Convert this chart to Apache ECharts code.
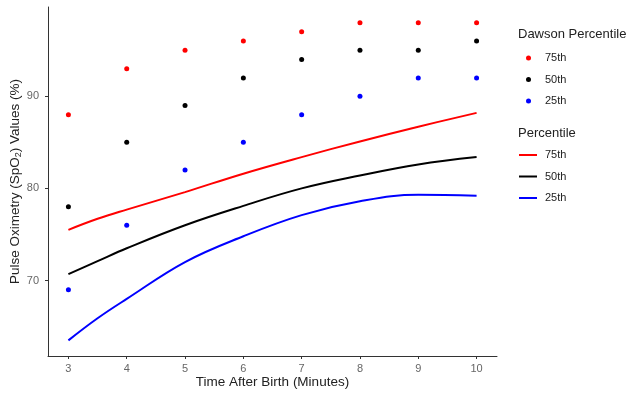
<!DOCTYPE html>
<html>
<head>
<meta charset="utf-8">
<script src="https://cdn.jsdelivr.net/npm/echarts@6.0.0/dist/echarts.min.js"></script>
<style>
  html, body { margin: 0; padding: 0; background: #fff; }
  #main { width: 635px; height: 398px; }
</style>
</head>
<body>
<div id="main"></div>
<script>
// Dawson percentile points (one per minute)
var dawsonMinutes = [3, 4, 5, 6, 7, 8, 9, 10];
var dawson75 = [88, 93, 95, 96, 97, 98, 98, 98];
var dawson50 = [78, 85, 89, 92, 94, 95, 95, 96];
var dawson25 = [69, 76, 82, 85, 88, 90, 92, 92];

// fitted percentile curves
var curveMinutes = [3, 3.5, 4, 5, 6, 7, 8, 9, 10];
var curve75 = [75.5, 76.7, 77.7, 79.6, 81.6, 83.4, 85.1, 86.7, 88.2];
var curve50 = [70.7, 72.1, 73.5, 76.0, 78.1, 80.0, 81.4, 82.6, 83.4];
var curve25 = [63.5, 65.9, 68.0, 72.0, 74.8, 77.1, 78.6, 79.3, 79.2];

var xTicks = [3, 4, 5, 6, 7, 8, 9, 10];
var yTicks = [70, 80, 90];

var labelNames = {d75: '75th', d50: '50th', d25: '25th', p75: '75th', p50: '50th', p25: '25th'};

function pairs(xs, ys) {
    return xs.map(function (x, i) { return [x, ys[i]]; });
}

var chart = echarts.init(document.getElementById('main'));
var font = 'Liberation Sans, Arial, sans-serif';

function dots(name, ys, color) {
    return {
        name: name,
        type: 'scatter',
        symbolSize: 5,
        itemStyle: {color: color, opacity: 1},
        data: pairs(dawsonMinutes, ys)
    };
}

function curve(name, ys, color) {
    return {
        name: name,
        type: 'line',
        smooth: 0.4,
        symbol: 'none',
        lineStyle: {color: color, width: 2},
        itemStyle: {color: color},
        data: pairs(curveMinutes, ys)
    };
}

var option = {
    animation: false,
    textStyle: {fontFamily: font},
    grid: {left: 48, right: 138, top: 7, bottom: 42, outerBoundsMode: 'none'},
    xAxis: {
        type: 'value',
        min: 2.65,
        max: 10.35,
        splitLine: {show: false},
        axisLine: {lineStyle: {color: '#333', width: 1}},
        axisTick: {show: true, length: 3, customValues: xTicks, lineStyle: {color: '#333'}},
        axisLabel: {customValues: xTicks, color: '#666', fontSize: 11, margin: 7},
        name: 'Time After Birth (Minutes)',
        nameLocation: 'middle',
        nameMoveOverlap: false,
        nameGap: 19,
        nameTextStyle: {color: '#222', fontSize: 13.5}
    },
    yAxis: {
        type: 'value',
        min: 61.8,
        max: 99.7,
        splitLine: {show: false},
        axisLine: {show: true, lineStyle: {color: '#333', width: 1}},
        axisTick: {show: true, length: 3, customValues: yTicks, lineStyle: {color: '#333'}},
        axisLabel: {customValues: yTicks, color: '#666', fontSize: 11, margin: 9},
        name: 'Pulse Oximetry (SpO{sub|2}) Values (%)',
        nameLocation: 'middle',
        nameMoveOverlap: false,
        nameGap: 25,
        nameTextStyle: {
            color: '#222',
            fontSize: 13.5,
            rich: {sub: {fontSize: 9, color: '#222', padding: [6, 0, 0, 0]}}
        }
    },
    legend: [
        {
            orient: 'vertical',
            left: 521,
            top: 46,
            itemWidth: 5,
            itemHeight: 5,
            itemGap: 7.5,
            icon: 'circle',
            data: ['d75', 'd50', 'd25'],
            formatter: function (n) { return labelNames[n]; },
            textStyle: {fontSize: 11, color: '#222', lineHeight: 14, padding: [0, 0, 0, 9]}
        },
        {
            orient: 'vertical',
            left: 514,
            top: 143,
            itemWidth: 18,
            itemHeight: 2,
            itemGap: 7.5,
            icon: 'rect',
            data: ['p75', 'p50', 'p25'],
            formatter: function (n) { return labelNames[n]; },
            textStyle: {fontSize: 11, color: '#222', lineHeight: 14, padding: [0, 0, 0, 3]}
        }
    ],
    graphic: [
        {type: 'text', left: 518, top: 28, style: {text: 'Dawson Percentile', font: '13px ' + font, fill: '#222'}},
        {type: 'text', left: 518, top: 127, style: {text: 'Percentile', font: '13px ' + font, fill: '#222'}}
    ],
    series: [
        dots('d75', dawson75, '#ff0000'),
        dots('d50', dawson50, '#000000'),
        dots('d25', dawson25, '#0000ff'),
        curve('p75', curve75, '#ff0000'),
        curve('p50', curve50, '#000000'),
        curve('p25', curve25, '#0000ff')
    ]
};

chart.setOption(option);
</script>
</body>
</html>
